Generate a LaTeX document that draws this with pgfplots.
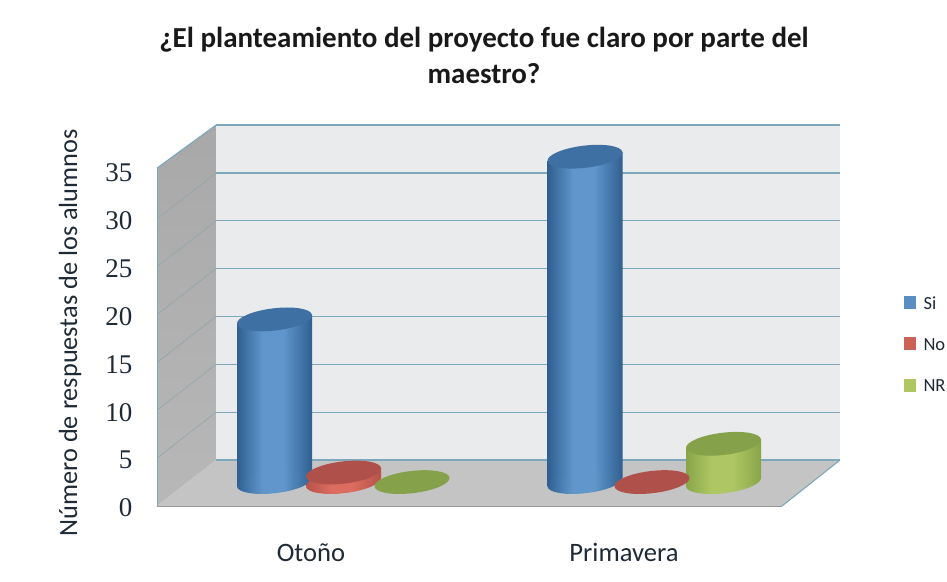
\documentclass[border=0pt]{standalone}
\usepackage{pgfplots}
\usepackage{fontspec}
\pgfplotsset{compat=1.18}
\setmainfont{Carlito}
\newfontfamily\tickfont{Liberation Serif}
\definecolor{bD}{HTML}{2F5F90}\definecolor{bM}{HTML}{6096CC}\definecolor{bT}{HTML}{3F70A3}
\definecolor{rD}{HTML}{B5524A}\definecolor{rM}{HTML}{DB6C5F}\definecolor{rT}{HTML}{B0504A}
\definecolor{gD}{HTML}{87A548}\definecolor{gM}{HTML}{AEC763}\definecolor{gT}{HTML}{85A24A}
\definecolor{backw}{HTML}{EAEBED}\definecolor{floorw}{HTML}{C4C4C5}
\definecolor{gridc}{HTML}{7EA8BA}\definecolor{gridl}{HTML}{94A6AD}\definecolor{txt}{HTML}{1E2A36}
\pgfdeclarehorizontalshading{cylb}{100bp}{color(0bp)=(bD);color(25bp)=(bD);color(42bp)=(bM);color(56bp)=(bM);color(75bp)=(bD);color(100bp)=(bD)}
\pgfdeclarehorizontalshading{cylr}{100bp}{color(0bp)=(rD);color(25bp)=(rD);color(42bp)=(rM);color(56bp)=(rM);color(75bp)=(rD);color(100bp)=(rD)}
\pgfdeclarehorizontalshading{cylg}{100bp}{color(0bp)=(gD);color(25bp)=(gD);color(42bp)=(gM);color(56bp)=(gM);color(75bp)=(gD);color(100bp)=(gD)}
\pgfdeclareverticalshading{lwall}{100bp}{color(0bp)=(black!28);color(25bp)=(black!28);color(75bp)=(black!34);color(100bp)=(black!34)}
\newcommand{\capellipse}{\pgfpathellipse{\pgfpointorigin}{\pgfqpoint{37.5pt}{4.5pt}}{\pgfqpoint{-1.5pt}{11pt}}}
\pgfdeclareplotmark{cap}{\capellipse\pgfusepathqfill}
\pgfdeclareplotmark{baseb}{\capellipse\pgfshadepath{cylb}{0}\pgfusepath{discard}}
\pgfdeclareplotmark{baser}{\capellipse\pgfshadepath{cylr}{0}\pgfusepath{discard}}
\pgfdeclareplotmark{baseg}{\capellipse\pgfshadepath{cylg}{0}\pgfusepath{discard}}
\pgfplotsset{
  cylbar/.style 2 args={ybar,bar width=75pt,bar shift=0pt,draw=none,shade,shading=#1,forget plot,yshift=#2,yslant=0.12},
  capm/.style={only marks,mark=cap,mark options={fill=#1,draw=none},forget plot},
  basem/.style={only marks,mark=#1,forget plot},
}
\begin{document}
\begin{tikzpicture}[x=1pt,y=1pt]
\path[use as bounding box,fill=white] (0,0) rectangle (947,581);
\begin{axis}[
  at={(157pt,75pt)},anchor=south west,
  scale only axis,width=683pt,height=382.8pt,
  xmin=157,xmax=840,ymin=-2.5,ymax=37.5,
  clip=false,
  axis line style={draw=none},
  tick style={draw=none},
  xtick={311,624},xticklabels={Otoño,Primavera},
  ytick={-2.5,2.5,7.5,12.5,17.5,22.5,27.5,32.5},
  yticklabels={0,5,10,15,20,25,30,35},
  x tick label style={font=\fontsize{26.6}{28}\selectfont,text=txt,yshift=-34pt},
  y tick label style={font=\tickfont\fontsize{27}{27}\selectfont,text=txt,xshift=-21pt,yshift=-2pt},
  title={¿El planteamiento del proyecto fue claro por parte del\\maestro?},
  title style={at={(axis cs:484,44.0)},anchor=center,align=center,
    font=\bfseries\fontsize{29}{36}\selectfont,text=black!90},
  ylabel={Número de respuestas de los alumnos},
  ylabel style={at={(axis cs:70,15.6)},anchor=center,
    font=\fontsize{26.3}{28}\selectfont,text=txt},
  legend style={at={(axis cs:903.5,19.6)},anchor=north west,draw=none,fill=none,
    font=\fontsize{18.5}{20}\selectfont,text=txt,row sep=24pt,inner sep=0pt,outer sep=0pt},
  legend cell align=left,
  legend image code/.code={\fill[#1,draw=none] (0pt,-5pt) rectangle (12pt,8pt);\path[draw=none,fill=none] (0pt,0pt) -- (18pt,0pt);},
]
% walls and floor
\addplot[fill=backw,draw=none,forget plot] coordinates {(216,2.3)(216,37.3)(840,37.3)(840,2.3)} --cycle;
\addplot[shade,shading=lwall,draw=none,forget plot] coordinates {(157,-2.5)(157,32.8)(216,37.3)(216,2.3)} --cycle;
\addplot[fill=floorw,draw=none,forget plot] coordinates {(157,-2.5)(216,2.3)(840,2.3)(782,-2.5)} --cycle;
% grid
\addplot[gridc,line width=1.3pt,forget plot,unbounded coords=jump] coordinates {
 (216,2.3)(840,2.3) (nan,nan) (216,7.3)(840,7.3) (nan,nan) (216,12.3)(840,12.3) (nan,nan) (216,17.3)(840,17.3) (nan,nan)
 (216,22.3)(840,22.3) (nan,nan) (216,27.3)(840,27.3) (nan,nan) (216,32.3)(840,32.3) (nan,nan) (216,37.3)(840,37.3)};
\addplot[gridl,line width=.7pt,forget plot,unbounded coords=jump] coordinates {
 (157,2.5)(216,7.3) (nan,nan) (157,7.5)(216,12.3) (nan,nan) (157,12.5)(216,17.3) (nan,nan) (157,17.5)(216,22.3) (nan,nan)
 (157,22.5)(216,27.3) (nan,nan) (157,27.5)(216,32.3)};
\addplot[gridc,line width=1.2pt,forget plot] coordinates {(157,32.8)(216,37.3)};
\addplot[gridc,line width=.8pt,forget plot] coordinates {(157,-2.5)(157,32.8)};
\addplot[gridc,line width=1.1pt,forget plot] coordinates {(840,2.3)(782,-2.5)};
\addplot[black!40,line width=1pt,forget plot] coordinates {(157,-2.5)(782,-2.5)};
% Otono: Si
\addplot[basem=baseb] coordinates {(274.5,0)};
\addplot[cylbar={cylb}{-14.1pt}] coordinates {(274.5,17)};
\addplot[capm=bT] coordinates {(274.5,17)};
% Primavera: Si
\addplot[basem=baseb] coordinates {(585,0)};
\addplot[cylbar={cylb}{-51.36pt}] coordinates {(585,34)};
\addplot[capm=bT] coordinates {(585,34)};
% Otono: No
\addplot[basem=baser] coordinates {(343.5,0)};
\addplot[cylbar={cylr}{-22.38pt}] coordinates {(343.5,1)};
\addplot[capm=rT] coordinates {(343.5,1)};
% Primavera: No
\addplot[capm=rT] coordinates {(652,0)};
% Otono: NR
\addplot[capm=gT] coordinates {(412,0)};
% Primavera: NR
\addplot[basem=baseg] coordinates {(723.5,0)};
\addplot[cylbar={cylg}{-67.98pt}] coordinates {(723.5,4)};
\addplot[capm=gT] coordinates {(723.5,4)};
\addlegendimage{fill=bM!85!bD}
\addlegendimage{fill=rM!60!rD}
\addlegendimage{fill=gM}
\legend{Si,No,NR}
\end{axis}
\end{tikzpicture}
\end{document}
